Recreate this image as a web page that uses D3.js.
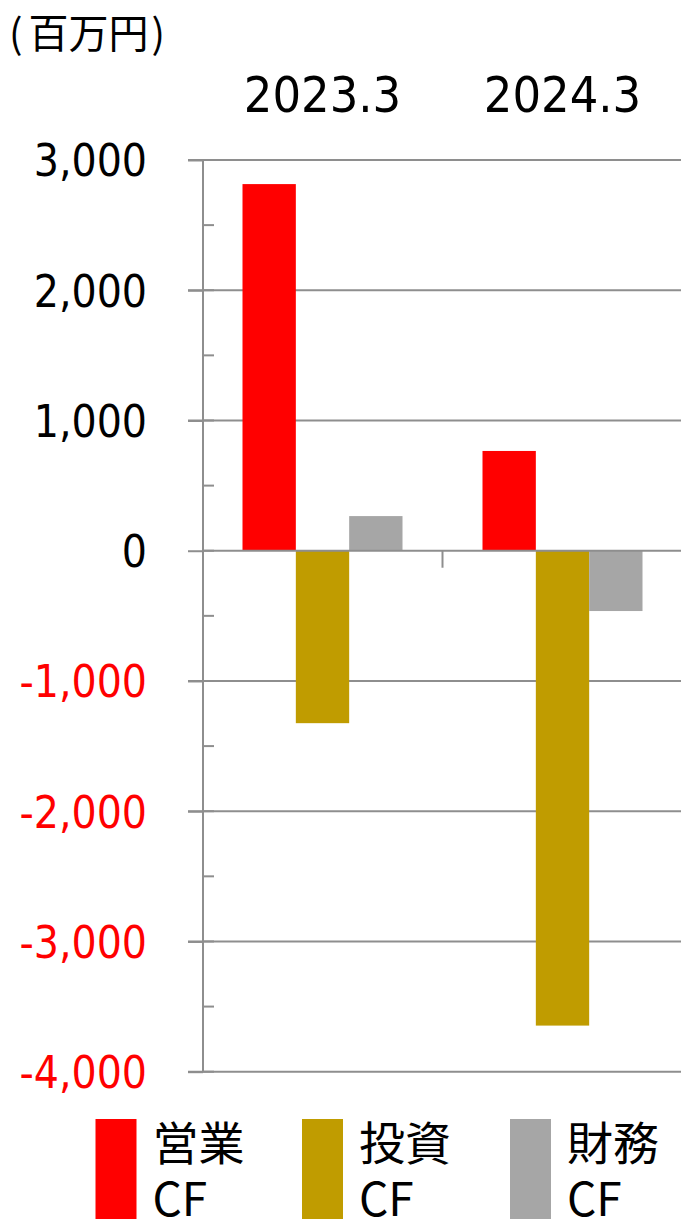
<!DOCTYPE html>
<html>
<head>
<meta charset="utf-8">
<script src="https://cdn.jsdelivr.net/npm/d3@7/dist/d3.min.js"></script>
<style>
  html, body { margin: 0; padding: 0; background: #fff; }
  svg { display: block; }
</style>
</head>
<body>
<svg id="chart" width="681" height="1219"></svg>
<script>
const categories = ["2023.3", "2024.3"];
const seriesNames = ["営業CF", "投資CF", "財務CF"];
const legendTop = ["営業", "投資", "財務"];
const legendBottom = ["CF", "CF", "CF"];
const operating = [2815, 766];
const investing = [-1324, -3646];
const financing = [266, -463];
const yTicks = [3000, 2000, 1000, 0, -1000, -2000, -3000, -4000];
const minorTicks = [2500, 1500, 500, -500, -1500, -2500, -3500];
const colors = ["#FF0000", "#C09C00", "#A6A6A6"];
const unitParts = ["(", "百万円", ")"];

const series = [operating, investing, financing];
const data = categories.map((c, i) => ({
  cat: c,
  vals: series.map((s, j) => ({ key: seriesNames[j], v: s[i], color: colors[j] }))
}));

const svg = d3.select("#chart");
const numFont = "'DejaVu Sans Condensed', 'Noto Sans', sans-serif";
const cjkFont = "'Noto Sans CJK JP', sans-serif";
const gridColor = "#8E8E8E";

const axisX = 203;
const y = d3.scaleLinear().domain([-4000, 3000]).range([1071.7, 160]);
const x = d3.scaleBand().domain(categories).range([202.5, 682.5]).paddingInner(1/3).paddingOuter(1/6);
const xs = d3.scaleBand().domain(seriesNames).range([0, x.bandwidth()]);
const fmt = v => d3.format(",")(v).replace("\u2212", "-");

// gridlines
svg.append("g").selectAll("line").data(yTicks.filter(d => d !== 0)).join("line")
  .attr("x1", 188).attr("x2", 682)
  .attr("y1", d => y(d)).attr("y2", d => y(d))
  .attr("stroke", gridColor).attr("stroke-width", 2);

// minor ticks
svg.append("g").selectAll("line").data(minorTicks).join("line")
  .attr("x1", axisX).attr("x2", 214)
  .attr("y1", d => y(d)).attr("y2", d => y(d))
  .attr("stroke", gridColor).attr("stroke-width", 2);

// major inner ticks
svg.append("g").selectAll("line").data(yTicks).join("line")
  .attr("x1", axisX).attr("x2", 214)
  .attr("y1", d => y(d)).attr("y2", d => y(d))
  .attr("stroke", gridColor).attr("stroke-width", 2);

// bars
const groups = svg.append("g").selectAll("g").data(data).join("g")
  .attr("transform", d => `translate(${x(d.cat)},0)`);
groups.selectAll("rect").data(d => d.vals).join("rect")
  .attr("x", d => xs(d.key))
  .attr("width", xs.bandwidth())
  .attr("y", d => Math.min(y(d.v), y(0)))
  .attr("height", d => Math.abs(y(d.v) - y(0)))
  .attr("fill", d => d.color);

// y axis
const yAxis = d3.axisLeft(y).tickValues(yTicks).tickSize(15).tickPadding(41)
  .tickFormat(fmt);
const yg = svg.append("g").attr("transform", `translate(${axisX},0)`).call(yAxis);
yg.select(".domain").attr("stroke", gridColor).attr("stroke-width", 2)
  .attr("d", `M0,${y(3000)}V${y(-4000)}`);
yg.selectAll(".tick line").attr("stroke", gridColor).attr("stroke-width", 2);
yg.selectAll(".tick text")
  .attr("font-family", numFont).attr("font-size", 44)
  .attr("fill", d => d < 0 ? "#FF0000" : "#000")
  .attr("dy", "0.36em");

// zero / category axis
svg.append("line")
  .attr("x1", axisX).attr("x2", 682)
  .attr("y1", y(0)).attr("y2", y(0))
  .attr("stroke", gridColor).attr("stroke-width", 2);
const boundaries = d3.range(categories.length + 1).map(i => x.range()[0] + i * x.step());
svg.append("g").selectAll("line").data(boundaries.slice(1)).join("line")
  .attr("x1", d => d).attr("x2", d => d)
  .attr("y1", y(0)).attr("y2", y(0) + 17)
  .attr("stroke", gridColor).attr("stroke-width", 2);

// category labels on top
svg.append("g").selectAll("text").data(categories).join("text")
  .attr("x", d => x(d) + x.bandwidth() / 2)
  .attr("y", 111.5)
  .attr("text-anchor", "middle")
  .attr("font-family", numFont).attr("font-size", 50)
  .attr("fill", "#000")
  .text(d => d);

// unit label
const ut = svg.append("text")
  .attr("x", 9).attr("y", 48)
  .attr("font-family", cjkFont).attr("font-size", 40)
  .attr("fill", "#000");
ut.append("tspan").text(unitParts[0]);
ut.append("tspan").attr("dx", 6).text(unitParts[1]);
ut.append("tspan").attr("dx", 3).text(unitParts[2]);

// legend
const legendX = [95.5, 302, 510];
const lg = svg.append("g").selectAll("g").data(seriesNames).join("g")
  .attr("transform", (d, i) => `translate(${legendX[i]},0)`);
lg.append("rect")
  .attr("x", 0).attr("y", 1119).attr("width", 41).attr("height", 120)
  .attr("fill", (d, i) => colors[i]);
lg.append("text")
  .attr("x", 57).attr("y", 1160)
  .attr("font-family", cjkFont).attr("font-size", 46).attr("fill", "#000")
  .text((d, i) => legendTop[i]);
lg.append("text")
  .attr("x", 57).attr("y", 1216)
  .attr("font-family", cjkFont).attr("font-size", 46).attr("fill", "#000")
  .text((d, i) => legendBottom[i]);
</script>
</body>
</html>
